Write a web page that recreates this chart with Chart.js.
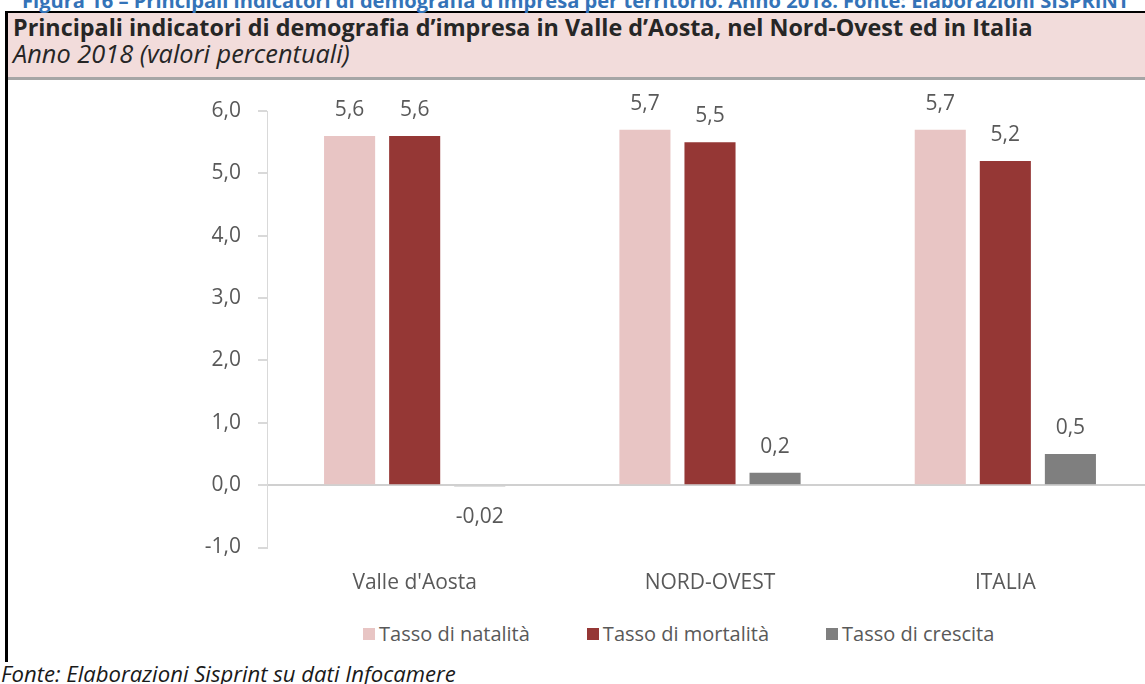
<!DOCTYPE html>
<html>
<head>
<meta charset="utf-8">
<script src="https://cdn.jsdelivr.net/npm/chart.js@4.4.1/dist/chart.umd.min.js"></script>
<style>
  html, body { margin: 0; padding: 0; width: 1145px; height: 684px; overflow: hidden; background: #fff; font-family: "Open Sans", sans-serif; }
  .txt { position: absolute; white-space: nowrap; line-height: 1; z-index: 2; }
  #caption { font-weight: bold; color: #3473B8; }
  #header { position: absolute; left: 5px; top: 11px; width: 1160px; height: 64px; background: #F2DCDB; border-top: 2px solid #000; border-bottom: 3px solid #A6A6A6; }
  #frame { position: absolute; left: 5px; top: 11px; width: 3px; height: 651px; background: #000; z-index: 3; }
  #title { font-weight: bold; color: #262626; }
  #subtitle { font-style: italic; color: #262626; }
  #footer { font-style: italic; color: #1a1a1a; }
  #chart-box { position: absolute; left: 0; top: 80px; width: 1160px; height: 540px; z-index: 1; }
  #legend { position: absolute; left: 363px; top: 620px; display: flex; gap: 57px; font-size: 20px; color: #595959; white-space: nowrap; }
  #legend .item { display: flex; align-items: center; }
  #legend .box { width: 12px; height: 12px; margin-right: 4px; }
</style>
</head>
<body>
<div id="caption" class="txt">Figura 16 – Principali indicatori di demografia d’impresa per territorio. Anno 2018. Fonte: Elaborazioni SISPRINT</div>
<div id="header"></div>
<div id="frame"></div>
<div id="title" class="txt">Principali indicatori di demografia d’impresa in Valle d’Aosta, nel Nord-Ovest ed in Italia</div>
<div id="subtitle" class="txt">Anno 2018 (valori percentuali)</div>
<div id="chart-box"><canvas id="chart"></canvas></div>
<div id="legend"></div>
<div id="footer" class="txt">Fonte: Elaborazioni Sisprint su dati Infocamere</div>
<script>
const categories = ["Valle d'Aosta", "NORD-OVEST", "ITALIA"];
const seriesNames = ["Tasso di natalità", "Tasso di mortalità", "Tasso di crescita"];
const natalita = [5.6, 5.7, 5.7];
const mortalita = [5.6, 5.5, 5.2];
const crescita = [-0.02, 0.2, 0.5];
const yTicks = [-1, 0, 1, 2, 3, 4, 5, 6];
const colors = ["#E8C5C4", "#953735", "#7F7F7F"];

// size a text line so it spans the same width as in the picture
function placeText(id, left, baseline, width) {
  const el = document.getElementById(id);
  el.style.fontSize = "20px";
  const w = el.getBoundingClientRect().width;
  const fs = 20 * width / w;
  el.style.fontSize = fs + "px";
  el.style.left = left + "px";
  el.style.top = (baseline - 0.888 * fs) + "px";
}
placeText("caption", 22, 9, 1108);
placeText("title", 13, 37, 1020);
placeText("subtitle", 13, 64, 337);
placeText("footer", 1, 682, 455);

const fmtValue = v => (Math.abs(v * 10 - Math.round(v * 10)) < 1e-9 ? v.toFixed(1) : v.toFixed(2)).replace(".", ",");

const barLabels = {
  id: "barLabels",
  afterDatasetsDraw(chart) {
    const ctx = chart.ctx;
    ctx.save();
    ctx.font = '21px "Open Sans"';
    ctx.fillStyle = "#595959";
    ctx.textAlign = "center";
    ctx.textBaseline = "middle";
    chart.data.datasets.forEach((ds, i) => {
      chart.getDatasetMeta(i).data.forEach((bar, j) => {
        const v = ds.data[j];
        const y = v < 0 ? Math.max(bar.y, bar.base) + 31 : bar.y - 26;
        ctx.fillText(fmtValue(v), bar.x, y);
      });
    });
    ctx.restore();
  }
};

// legend as html, built from the chart's own legend items
const htmlLegend = {
  id: "htmlLegend",
  afterUpdate(chart) {
    const box = document.getElementById("legend");
    box.innerHTML = "";
    chart.options.plugins.legend.labels.generateLabels(chart).forEach(item => {
      const el = box.appendChild(document.createElement("div"));
      el.className = "item";
      const sw = el.appendChild(document.createElement("span"));
      sw.className = "box";
      sw.style.background = item.fillStyle;
      el.appendChild(document.createTextNode(item.text));
    });
  }
};

const seriesData = [natalita, mortalita, crescita];

new Chart(document.getElementById("chart"), {
  type: "bar",
  data: {
    labels: categories,
    datasets: seriesNames.map((name, i) => ({
      label: name,
      data: seriesData[i],
      backgroundColor: colors[i],
      categoryPercentage: 0.661,
      barPercentage: 0.785
    }))
  },
  options: {
    responsive: true,
    maintainAspectRatio: false,
    animation: false,
    layout: { padding: { left: 190, top: 31, right: 7, bottom: 0 } },
    plugins: {
      tooltip: { enabled: false },
      legend: { display: false }
    },
    scales: {
      x: {
        grid: { display: false },
        border: { display: false },
        ticks: { color: "#595959", font: { family: "Open Sans", size: 21 }, padding: 15 },
        afterFit: s => { s.height = 72.5; }
      },
      y: {
        min: -1,
        max: 6,
        afterBuildTicks: s => { s.ticks = yTicks.map(v => ({ value: v })); },
        afterFit: s => { s.width = 77; },
        border: { display: true, color: "#D9D9D9", width: 1 },
        grid: {
          color: c => (c.tick && c.tick.value === 0 ? "#D0D0D0" : "rgba(0,0,0,0)"),
          lineWidth: 2,
          tickColor: "#D9D9D9",
          tickLength: 9
        },
        ticks: {
          color: "#595959",
          font: { family: "Open Sans", size: 21 },
          padding: 17,
          callback: v => v.toFixed(1).replace(".", ",")
        }
      }
    }
  },
  plugins: [barLabels, htmlLegend]
});
</script>
</body>
</html>
